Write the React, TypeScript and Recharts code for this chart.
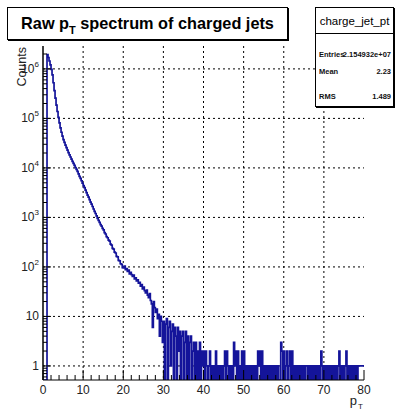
import React from "react";
import { LineChart, Line, XAxis, YAxis, CartesianGrid } from "recharts";

// histogram of charged-jet pT, 0.25 GeV bins from 0 to 80
const BIN_WIDTH = 0.25;

// 0 - 20
const lowCounts = [
  0, 0, 0, 0,
  1950000, 1700000, 1445000, 1200000,
  977000, 759000, 525000, 363000,
  257000, 186000, 138000, 105000,
  81300, 64600, 52500, 43700,
  37200, 32700, 28800, 25700,
  22900, 20400, 18400, 16600,
  15000, 13500, 12300, 11200,
  10200, 9330, 8510, 7590,
  6760, 6170, 5500, 4900,
  4370, 3980, 3550, 3160,
  2820, 2570, 2290, 2040,
  1860, 1660, 1480, 1320,
  1200, 1070, 955, 871,
  794, 712, 668, 598,
  561, 493, 462, 409,
  388, 349, 331, 288,
  276, 238, 229, 199,
  191, 163, 159, 136,
  132, 116, 113, 97,
];

// 20 - 40
const midCounts = [
  96, 104, 88, 92, 81, 86, 72, 78,
  70, 64, 68, 57, 60, 52, 55, 47,
  49, 41, 44, 36, 39, 33, 30, 34,
  27, 24, 29, 21, 18, 6, 20, 15,
  12, 14, 9, 11, 4, 10, 8, 3,
  8, 0, 7, 9, 0, 6, 8, 1,
  5, 7, 0, 6, 4, 0, 6, 2,
  5, 0, 4, 5, 0, 3, 5, 0,
  4, 0, 3, 4, 0, 2, 3, 0,
  3, 0, 2, 0, 3, 0, 2, 1,
];

// 40 - 80
const tailCounts = [
  2, 0, 2, 1, 0, 1, 2, 0,
  1, 0, 1, 0, 2, 0, 1, 0,
  1, 0, 1, 0, 1, 2, 0, 2,
  1, 0, 1, 0, 1, 0, 3, 1,
  2, 0, 2, 0, 1, 0, 2, 0,
  2, 0, 1, 0, 1, 0, 1, 0,
  1, 0, 1, 0, 1, 0, 2, 1,
  2, 0, 2, 0, 1, 0, 1, 0,
  1, 0, 1, 0, 1, 0, 1, 0,
  1, 0, 1, 0, 0, 3, 2, 0,
  2, 0, 1, 2, 0, 1, 2, 0,
  2, 0, 1, 0, 1, 0, 1, 0,
  1, 0, 1, 0, 1, 0, 1, 1,
  0, 1, 0, 1, 0, 1, 0, 1,
  0, 1, 0, 1, 0, 2, 1, 0,
  1, 0, 1, 0, 1, 0, 1, 0,
  1, 0, 1, 0, 1, 0, 1, 2,
  0, 1, 0, 1, 0, 1, 2, 0,
  1, 0, 1, 0, 1, 0, 1, 0,
  1, 0, 1, 1, 1, 1, 1, 1,
];

const xMajor = [0, 10, 20, 30, 40, 50, 60, 70, 80];
const yMajor = [1, 10, 100, 1000, 10000, 100000, 1000000];

const Y_MIN = 0.52;
const Y_MAX = 2.9e6;
const X_MAX = 80;

const xTicks = Array.from({ length: 41 }, (_, i) => i * 2);
const yTicks = [0.1, ...yMajor]
  .flatMap((d) => [d, 2 * d, 3 * d, 4 * d, 5 * d, 6 * d, 7 * d, 8 * d, 9 * d])
  .filter((v) => v >= Y_MIN && v <= Y_MAX);

const counts = [...lowCounts, ...midCounts, ...tailCounts];
const data = counts.map((c, i) => ({ x: i * BIN_WIDTH, y: c > 0 ? c : Y_MIN }));
data.push({ x: X_MAX, y: data[data.length - 1].y });

const FONT = '"Liberation Sans", Arial, Helvetica, sans-serif';
const BLUE = "#14149a";

function YTick({ x, y, payload }: any) {
  const v = payload.value;
  const major = yMajor.includes(v);
  const e = Math.round(Math.log10(v));
  return (
    <g>
      <line x1={x} x2={x + (major ? 8 : 4)} y1={y} y2={y} stroke="#000" />
      {major &&
        (e < 2 ? (
          <text x={x - 4} y={y + 4} textAnchor="end" fontSize={12} fontFamily={FONT} fill="#222">
            {v}
          </text>
        ) : (
          <text x={x - 4} y={y + 4} textAnchor="end" fontSize={12} fontFamily={FONT} fill="#222">
            <tspan>10</tspan>
            <tspan dy={-6} fontSize={8}>
              {e}
            </tspan>
          </text>
        ))}
    </g>
  );
}

function XTick({ x, y, payload }: any) {
  const major = payload.value % 10 === 0;
  return (
    <g>
      <line x1={x} x2={x} y1={y} y2={y - (major ? 10 : 5)} stroke="#000" />
      {major && (
        <text x={x} y={y + 14} textAnchor="middle" fontSize={12} fontFamily={FONT} fill="#222">
          {payload.value}
        </text>
      )}
    </g>
  );
}

const boxStyle: React.CSSProperties = {
  position: "absolute",
  boxSizing: "border-box",
  background: "#fff",
  border: "1px solid #000",
  boxShadow: "1px 1px 0 #000",
};

export default function App() {
  return (
    <div
      style={{
        position: "absolute",
        left: 0,
        top: 0,
        width: 395,
        height: 410,
        background: "#fff",
        fontFamily: FONT,
        overflow: "hidden",
      }}
    >
      <LineChart width={395} height={410} data={data} margin={{ top: 46, right: 31, left: 0, bottom: 0 }}>
        <CartesianGrid
          horizontalValues={yMajor}
          verticalValues={xMajor.slice(1, -1)}
          stroke="#000"
          strokeDasharray="2 3"
        />
        <XAxis
          type="number"
          dataKey="x"
          domain={[0, X_MAX]}
          ticks={xTicks}
          interval={0}
          tick={<XTick />}
          tickSize={0}
          tickMargin={0}
          tickLine={false}
          axisLine={{ stroke: "#000" }}
          height={30}
        />
        {/* top and right edges of the frame */}
        <XAxis
          xAxisId="top"
          orientation="top"
          type="number"
          dataKey="x"
          domain={[0, X_MAX]}
          tick={false}
          tickLine={false}
          axisLine={{ stroke: "#000" }}
          height={0}
        />
        <YAxis
          type="number"
          scale="log"
          domain={[Y_MIN, Y_MAX]}
          allowDataOverflow
          ticks={yTicks}
          interval={0}
          tick={<YTick />}
          tickSize={0}
          tickMargin={0}
          tickLine={false}
          axisLine={{ stroke: "#000", strokeWidth: 1.5 }}
          width={43}
        />
        <YAxis
          yAxisId="right"
          orientation="right"
          type="number"
          scale="log"
          domain={[Y_MIN, Y_MAX]}
          allowDataOverflow
          tick={false}
          tickLine={false}
          axisLine={{ stroke: "#000" }}
          width={0}
        />
        <Line
          type="stepAfter"
          dataKey="y"
          stroke={BLUE}
          strokeWidth={1.7}
          dot={false}
          isAnimationActive={false}
        />
      </LineChart>

      <svg style={{ position: "absolute", left: 0, top: 0 }} width={395} height={410}>
        <text
          transform="translate(26,47) rotate(-90)"
          textAnchor="end"
          fontSize={12.5}
          fontFamily={FONT}
          fill="#222"
        >
          Counts
        </text>
        <text x={357} y={405} textAnchor="end" fontSize={13} fontFamily={FONT} fill="#222">
          p
        </text>
        <text x={358} y={409} fontSize={8} fontFamily={FONT} fill="#222">
          T
        </text>
      </svg>

      <div
        style={{
          ...boxStyle,
          left: 7,
          top: 7,
          width: 281,
          height: 33,
          display: "flex",
          alignItems: "center",
          justifyContent: "center",
          fontSize: 16.3,
          fontWeight: "bold",
          color: "#000",
        }}
      >
        <span>
          Raw p<span style={{ fontSize: 11, position: "relative", top: 5 }}>T</span> spectrum of charged jets
        </span>
      </div>

      <div style={{ ...boxStyle, left: 315, top: 7, width: 79, height: 100 }}>
        <div
          style={{
            height: 25,
            borderBottom: "1px solid #000",
            display: "flex",
            alignItems: "center",
            justifyContent: "center",
            fontSize: 11.5,
          }}
        >
          charge_jet_pt
        </div>
        {[
          { label: "Entries", value: "2.154932e+07", top: 42 },
          { label: "Mean", value: "2.23", top: 59 },
          { label: "RMS", value: "1.489", top: 84 },
        ].map((r) => (
          <div
            key={r.label}
            style={{
              position: "absolute",
              left: 3,
              right: 2,
              top: r.top,
              fontSize: 7.5,
              fontWeight: "bold",
              lineHeight: "9px",
              color: "#111",
            }}
          >
            <span style={{ position: "absolute", left: 0 }}>{r.label}</span>
            <span style={{ position: "absolute", right: 0 }}>{r.value}</span>
          </div>
        ))}
      </div>
    </div>
  );
}
